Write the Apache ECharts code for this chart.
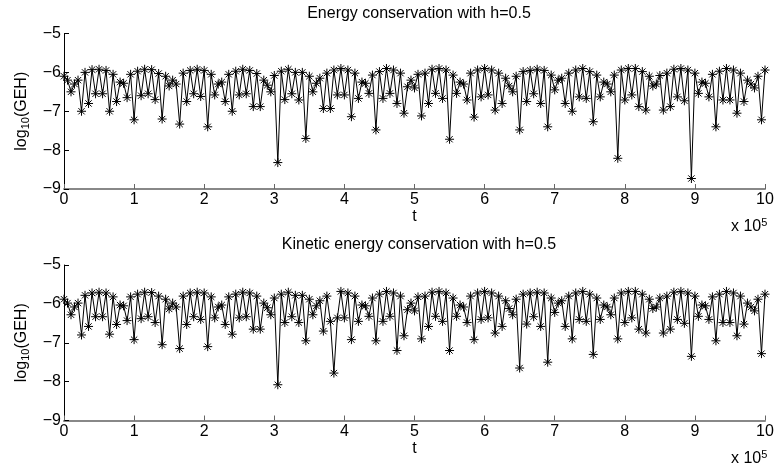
<!DOCTYPE html>
<html>
<head>
<meta charset="utf-8">
<script src="https://cdn.jsdelivr.net/npm/echarts@6/dist/echarts.min.js"></script>
<style>html,body{margin:0;padding:0;background:#fff}#main{width:781px;height:470px}</style>
</head>
<body>
<div id="main"></div>
<script>
// sample spacing in t
var step = 5000;

// log10(GEH), energy conservation (top panel)
var energy = [
  -6.10,-6.20,-6.50,-6.30,-6.20,-7.00,-6.00,-6.80,-5.93,-6.55,
  -5.92,-6.55,-5.95,-7.00,-6.05,-6.75,-6.25,-6.28,-6.65,-6.05,
  -7.22,-5.97,-6.60,-5.92,-6.55,-5.93,-6.70,-6.03,-7.20,-6.10,
  -6.35,-6.20,-6.30,-7.33,-6.02,-6.75,-5.95,-6.55,-5.92,-6.62,
  -5.95,-7.40,-6.05,-6.58,-6.30,-6.25,-6.75,-6.05,-7.00,-5.97,
  -6.58,-5.92,-6.55,-5.95,-6.88,-6.03,-6.88,-6.20,-6.33,-6.50,
  -6.08,-8.32,-5.97,-6.70,-5.92,-6.55,-6.00,-6.71,-6.00,-7.70,
  -6.10,-6.50,-6.28,-6.15,-6.93,-6.02,-6.93,-5.94,-6.58,-5.90,
  -6.58,-5.94,-7.14,-6.02,-6.67,-6.25,-6.28,-6.54,-6.07,-7.48,
  -5.98,-6.67,-5.90,-6.54,-5.94,-6.80,-6.02,-7.05,-6.37,-6.20,
  -6.40,-6.05,-7.12,-6.02,-6.80,-5.92,-6.54,-5.90,-6.67,-5.94,
  -7.72,-6.07,-6.54,-6.25,-6.30,-6.71,-6.02,-7.15,-5.94,-6.63,
  -5.90,-6.58,-5.94,-6.97,-6.02,-6.80,-6.15,-6.35,-6.50,-6.10,
  -7.48,-5.98,-6.75,-5.95,-6.55,-5.92,-6.80,-5.95,-7.40,-6.07,
  -6.45,-6.20,-6.15,-6.80,-6.02,-7.00,-5.94,-6.63,-5.90,-6.67,
  -5.98,-7.27,-6.07,-6.63,-6.25,-6.30,-6.50,-6.07,-8.21,-5.94,
  -6.71,-5.90,-6.58,-5.90,-6.88,-5.98,-6.97,-6.10,-6.35,-6.30,
  -6.08,-6.97,-6.02,-6.88,-5.92,-6.63,-5.90,-6.73,-5.94,-8.73,
  -6.02,-6.54,-6.25,-6.28,-6.63,-6.05,-7.40,-5.97,-6.71,-5.90,
  -6.71,-5.94,-7.05,-6.02,-6.75,-6.20,-6.30,-6.40,-6.10,-7.22,
  -5.94
];

// log10(GEH), kinetic energy conservation (bottom panel)
var kinetic = [
  -5.88,-5.98,-6.28,-6.08,-5.98,-6.80,-5.78,-6.58,-5.72,-6.33,
  -5.70,-6.33,-5.72,-6.78,-5.82,-6.53,-6.03,-6.05,-6.43,-5.82,
  -6.92,-5.75,-6.38,-5.70,-6.33,-5.71,-6.48,-5.80,-7.05,-5.88,
  -6.13,-5.98,-6.08,-7.15,-5.80,-6.53,-5.72,-6.33,-5.70,-6.40,
  -5.72,-7.10,-5.82,-6.36,-6.08,-6.03,-6.53,-5.82,-6.78,-5.75,
  -6.36,-5.70,-6.33,-5.72,-6.65,-5.80,-6.65,-5.98,-6.10,-6.28,
  -5.85,-8.08,-5.75,-6.48,-5.70,-6.33,-5.78,-6.48,-5.78,-6.95,
  -5.88,-6.28,-6.05,-5.92,-6.70,-5.80,-6.45,-7.78,-6.36,-5.68,
  -6.36,-5.72,-6.92,-5.80,-6.45,-6.03,-6.05,-6.32,-5.85,-6.95,
  -5.75,-6.45,-5.68,-6.32,-5.72,-7.20,-5.80,-6.82,-6.15,-5.98,
  -6.18,-5.82,-6.90,-5.80,-6.58,-5.70,-6.32,-5.68,-6.45,-5.72,
  -7.20,-5.85,-6.32,-6.03,-6.08,-6.48,-5.80,-6.92,-5.72,-6.40,
  -5.68,-6.36,-5.72,-6.75,-5.80,-6.58,-5.92,-6.12,-6.28,-5.88,
  -7.65,-5.75,-6.52,-5.72,-6.33,-5.70,-6.58,-5.72,-7.50,-5.85,
  -6.22,-5.98,-5.92,-6.58,-5.80,-6.90,-5.72,-6.40,-5.68,-6.45,
  -5.75,-7.30,-5.85,-6.40,-6.03,-6.08,-6.28,-5.85,-6.90,-5.72,
  -6.48,-5.68,-6.36,-5.68,-6.65,-5.75,-6.75,-5.88,-6.12,-6.08,
  -5.85,-6.75,-5.80,-6.65,-5.70,-6.40,-5.68,-6.50,-5.72,-7.35,
  -5.80,-6.32,-6.03,-6.05,-6.40,-5.82,-6.95,-5.75,-6.48,-5.68,
  -6.48,-5.72,-6.82,-5.80,-6.52,-5.98,-6.08,-6.18,-5.88,-7.28,
  -5.75
];

var titles = ['Energy conservation with h=0.5', 'Kinetic energy conservation with h=0.5'];
var yName = '{a|log}{s|10}{a|(GEH)}';

var font = '"Liberation Sans", Arial, Helvetica, sans-serif';
var fs = 16;
var star = 'path://M0,5L10,5M5,0L5,10M1.5,1.5L8.5,8.5M1.5,8.5L8.5,1.5';
var grids = [
  {left: 64, right: 16, top: 33.5, height: 155.5},
  {left: 64, right: 16, top: 265, height: 155.5}
];

function toPairs(vals) {
  return vals.map(function (v, i) { return [i * step, v]; });
}

function makeX(idx) {
  return {
    type: 'value', gridIndex: idx, min: 0, max: 1e6, interval: 1e5,
    name: 't', nameLocation: 'middle', nameGap: 12,
    nameTextStyle: {color: '#000', fontSize: fs, fontFamily: font},
    axisLine: {onZero: false, lineStyle: {color: '#888', width: 2}},
    axisTick: {inside: true, length: 5, lineStyle: {color: '#666'}},
    axisLabel: {margin: 3, color: '#000', fontSize: fs, fontFamily: font,
      formatter: function (v) { return v / 1e5; }},
    splitLine: {show: false}
  };
}

function makeY(idx) {
  return {
    type: 'value', gridIndex: idx, min: -9, max: -5, interval: 1,
    name: yName, nameLocation: 'middle', nameGap: 32, nameRotate: 90,
    nameTextStyle: {
      rich: {
        a: {color: '#000', fontSize: fs, fontFamily: font, lineHeight: 20},
        s: {color: '#000', fontSize: 11, fontFamily: font, lineHeight: 20, padding: [8, 0, 0, 0]}
      }
    },
    axisLine: {onZero: false, lineStyle: {color: '#000', width: 1}},
    axisTick: {inside: true, length: 5, lineStyle: {color: '#000'}},
    axisLabel: {margin: 3, color: '#000', fontSize: fs, fontFamily: font,
      formatter: function (v) { return String(v).replace('-', '\u2212'); }},
    splitLine: {show: false}
  };
}

function makeSeries(idx, vals) {
  return {
    type: 'line', xAxisIndex: idx, yAxisIndex: idx,
    data: toPairs(vals),
    symbol: star, symbolSize: 9, showAllSymbol: true,
    lineStyle: {color: '#000', width: 1},
    itemStyle: {color: '#000', borderColor: '#000', borderWidth: 1},
    animation: false
  };
}

function powerLabel(top) {
  return {
    text: '{a|x 10}{s|5}', left: 726, top: top,
    textStyle: {fontWeight: 'normal', rich: {
      a: {color: '#000', fontSize: fs, fontFamily: font, fontWeight: 'normal', lineHeight: 20, padding: [8, 0, 0, 0]},
      s: {color: '#000', fontSize: 11, fontFamily: font, fontWeight: 'normal', lineHeight: 20}
    }}
  };
}

var option = {
  backgroundColor: '#fff',
  animation: false,
  title: [
    {text: titles[0], left: 414, top: 1, textAlign: 'center',
      textStyle: {color: '#000', fontSize: fs, fontWeight: 'normal', fontFamily: font}},
    {text: titles[1], left: 414, top: 232, textAlign: 'center',
      textStyle: {color: '#000', fontSize: fs, fontWeight: 'normal', fontFamily: font}},
    powerLabel(208),
    powerLabel(440)
  ],
  grid: grids,
  xAxis: [makeX(0), makeX(1)],
  yAxis: [makeY(0), makeY(1)],
  series: [makeSeries(0, energy), makeSeries(1, kinetic)]
};

var myChart = echarts.init(document.getElementById('main'));
myChart.setOption(option);
</script>
</body>
</html>
